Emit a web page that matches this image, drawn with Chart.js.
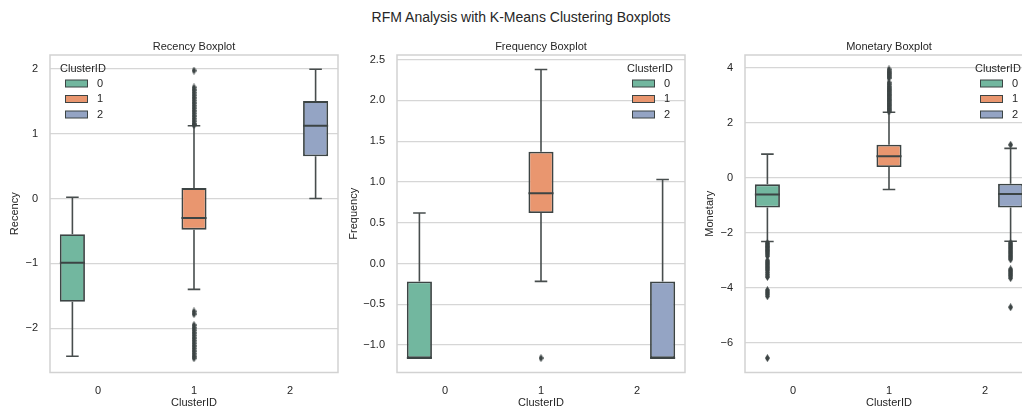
<!DOCTYPE html>
<html>
<head>
<meta charset="utf-8">
<title>RFM Analysis with K-Means Clustering Boxplots</title>
<script src="https://cdn.jsdelivr.net/npm/chart.js@4.4.0/dist/chart.umd.min.js"></script>
<style>
  html, body { margin: 0; padding: 0; background: #ffffff; }
  #figure { position: relative; width: 1022px; height: 407px; overflow: hidden; background: #ffffff; }
  #suptitle {
    position: absolute; left: 0; top: 8px; width: 1042px; text-align: center;
    font: 14px "Liberation Sans", Arial, sans-serif; line-height: 18px; color: #262626; white-space: nowrap;
  }
  .panel { position: absolute; top: 0; }
  .panel canvas { display: block; }
</style>
</head>
<body>
<div id="figure">
  <div id="suptitle">RFM Analysis with K-Means Clustering Boxplots</div>
  <div class="panel" style="left:0px"><canvas id="recencyChart" width="345" height="420"></canvas></div>
  <div class="panel" style="left:345px"><canvas id="frequencyChart" width="345" height="420"></canvas></div>
  <div class="panel" style="left:690px"><canvas id="monetaryChart" width="350" height="420"></canvas></div>
</div>
<script>
// ---- data ---------------------------------------------------------------
const clusterIds = ['0', '1', '2'];

// per cluster: [lower whisker, Q1, median, Q3, upper whisker]
const recencyStats = [
  [-2.43, -1.59, -0.99, -0.55, 0.02],
  [-1.40, -0.48, -0.30, 0.16, 1.12],
  [0.00, 0.65, 1.12, 1.50, 1.99]
];
const recencyOutliers = [
  [],
  [1.97, 1.71, 1.67, 1.63, 1.59, 1.55, 1.51, 1.47, 1.43, 1.39, 1.35, 1.31, 1.27, 1.23, 1.19, 1.15, 1.13,
   -1.74, -1.78, -1.95, -1.99, -2.03, -2.07, -2.11, -2.15, -2.19, -2.23, -2.27, -2.31, -2.35, -2.39, -2.43, -2.46],
  []
];
const recencyTicks = [-2, -1, 0, 1, 2];
const recencyTickLabels = ['\u22122', '\u22121', '0', '1', '2'];

const frequencyStats = [
  [-1.16, -1.16, -1.16, -0.22, 0.62],
  [-0.22, 0.62, 0.86, 1.37, 2.38],
  [-1.16, -1.16, -1.16, -0.22, 1.03]
];
const frequencyOutliers = [
  [],
  [-1.16],
  []
];
const frequencyTicks = [-1.0, -0.5, 0.0, 0.5, 1.0, 1.5, 2.0, 2.5];
const frequencyTickLabels = ['\u22121.0', '\u22120.5', '0.0', '0.5', '1.0', '1.5', '2.0', '2.5'];

const monetaryStats = [
  [-2.31, -1.07, -0.60, -0.23, 0.87],
  [-0.42, 0.40, 0.79, 1.21, 2.39],
  [-2.30, -1.07, -0.58, -0.21, 1.08]
];
const monetaryOutliers = [
  [-2.36, -2.41, -2.46, -2.51, -2.56, -2.61, -2.66, -2.71, -2.77, -2.84,
   -3.00, -3.06, -3.12, -3.18, -3.24, -3.30, -3.36, -3.44, -3.52, -3.60,
   -4.08, -4.15, -4.22, -4.30, -6.55],
  [2.42, 2.48, 2.54, 2.60, 2.66, 2.72, 2.78, 2.84, 2.90, 2.96, 3.02, 3.08, 3.14, 3.20,
   3.26, 3.32, 3.40, 3.47, 3.64, 3.70, 3.76, 3.82, 3.88, 3.95],
  [1.21, -2.36, -2.42, -2.48, -2.54, -2.60, -2.66, -2.72, -2.78, -2.84, -2.90, -2.96,
   -3.32, -3.38, -3.44, -3.50, -3.56, -3.64, -4.70]
];
const monetaryTicks = [-6, -4, -2, 0, 2, 4];
const monetaryTickLabels = ['\u22126', '\u22124', '\u22122', '0', '2', '4'];

// ---- styling ------------------------------------------------------------
const clusterColors = ['#72b79f', '#e9966f', '#94a4c4'];
const edgeColor = '#3c4444';
const whiskerColor = '#474d4d';
const textColor = '#262626';
const gridColor = '#d6d6d6';
const fontFamily = '"Liberation Sans", Arial, sans-serif';

Chart.defaults.font.family = fontFamily;
Chart.defaults.color = textColor;

const hueWidth = 0.8 / clusterIds.length;
const boxWidth = hueWidth * 0.98;
// dodged position of a hue inside its category slot
function hueCenter(i) { return i + (i - (clusterIds.length - 1) / 2) * hueWidth; }
const categoryPositions = clusterIds.map((_, i) => i);

// thin diamond marker used for the fliers
const diamond = document.createElement('canvas');
diamond.width = 5; diamond.height = 8;
(function () {
  const d = diamond.getContext('2d');
  d.fillStyle = edgeColor;
  d.beginPath();
  d.moveTo(2.5, 0); d.lineTo(5, 4); d.lineTo(2.5, 8); d.lineTo(0, 4);
  d.closePath(); d.fill();
})();

function buildDatasets(stats, outliers) {
  const sets = [];
  // boxes (Q1..Q3) as floating bars at their dodged positions
  clusterIds.forEach((id, h) => {
    sets.push({
      type: 'bar', label: id, order: 3, xAxisID: 'x', yAxisID: 'y',
      data: [{ x: hueCenter(h), y: [stats[h][1], stats[h][3]] }],
      backgroundColor: clusterColors[h], borderColor: edgeColor, borderWidth: 1.8,
      borderSkipped: false, grouped: false, categoryPercentage: 1, barPercentage: boxWidth
    });
  });
  clusterIds.forEach((id, h) => {
    const [lo, q1, med, q3, hi] = stats[h];
    const c = hueCenter(h), cap = boxWidth / 4, half = boxWidth / 2;
    const gap = { x: c, y: null };
    sets.push({
      type: 'line', label: 'whiskers ' + id, order: 2, xAxisID: 'xl', yAxisID: 'y',
      data: [
        { x: c, y: q3 }, { x: c, y: hi }, gap,
        { x: c - cap, y: hi }, { x: c + cap, y: hi }, gap,
        { x: c, y: q1 }, { x: c, y: lo }, gap,
        { x: c - cap, y: lo }, { x: c + cap, y: lo }
      ],
      borderColor: whiskerColor, borderWidth: 1.6, pointRadius: 0, spanGaps: false, fill: false
    });
    sets.push({
      type: 'line', label: 'median ' + id, order: 1, xAxisID: 'xl', yAxisID: 'y',
      data: [{ x: c - half, y: med }, { x: c + half, y: med }],
      borderColor: edgeColor, borderWidth: 2, pointRadius: 0, fill: false
    });
    sets.push({
      type: 'scatter', label: 'outliers ' + id, order: 0, xAxisID: 'xl', yAxisID: 'y',
      data: outliers[h].map(v => ({ x: c, y: v })),
      pointStyle: diamond, pointRadius: 3, showLine: false
    });
  });
  return sets;
}

// light frame round the plotting area
const axesFrame = {
  id: 'axesFrame',
  beforeDatasetsDraw(chart) {
    const { ctx, chartArea: a } = chart;
    ctx.save();
    ctx.strokeStyle = '#d2d2d2';
    ctx.lineWidth = 1.5;
    ctx.strokeRect(a.left, a.top, a.right - a.left, a.bottom - a.top);
    ctx.restore();
  }
};

// "ClusterID" legend drawn inside the plotting area
const clusterLegend = {
  id: 'clusterLegend',
  afterDatasetsDraw(chart, args, opts) {
    const { ctx, chartArea: a } = chart;
    const left = opts.side === 'left' ? a.left + 10 : a.right - 58;
    const items = chart.data.datasets.filter(d => d.type === 'bar');
    ctx.save();
    ctx.font = '11px ' + fontFamily;
    ctx.textBaseline = 'middle';
    ctx.textAlign = 'left';
    ctx.fillStyle = textColor;
    ctx.fillText('ClusterID', left, a.top + 14);
    items.forEach((d, i) => {
      const y = a.top + 28.5 + i * 15.5;
      ctx.fillStyle = d.backgroundColor;
      ctx.fillRect(left + 5.5, y - 3.5, 22, 7);
      ctx.strokeStyle = edgeColor;
      ctx.lineWidth = 1;
      ctx.strokeRect(left + 5.5, y - 3.5, 22, 7);
      ctx.fillStyle = textColor;
      ctx.fillText(d.label, left + 37, y);
    });
    ctx.restore();
  }
};

function makePanel(canvasId, cfg) {
  const font = { size: 11, family: fontFamily };
  return new Chart(document.getElementById(canvasId), {
    type: 'bar',
    data: { datasets: buildDatasets(cfg.stats, cfg.outliers) },
    plugins: [axesFrame, clusterLegend],
    options: {
      responsive: false,
      animation: false,
      events: [],
      layout: { padding: { top: 40, left: cfg.padLeft, right: cfg.padRight, bottom: 7.5 } },
      plugins: {
        legend: { display: false },
        tooltip: { enabled: false },
        title: {
          display: true, text: cfg.title, fullSize: false,
          font: { size: 11, family: fontFamily, weight: 'normal' }, color: textColor,
          padding: { top: 0.4, bottom: 1.4 }
        },
        clusterLegend: { side: cfg.legendSide }
      },
      scales: {
        // cluster axis: one unit per cluster, labelled with the cluster ids
        x: {
          type: 'linear', offset: false, min: -0.5, max: 2.5,
          afterBuildTicks(s) { s.ticks = categoryPositions.map(v => ({ value: v })); },
          grid: { display: false, drawTicks: false },
          border: { display: false },
          ticks: { padding: 12, font, color: textColor, callback: (v) => clusterIds[v] },
          title: { display: true, text: 'ClusterID', font, color: textColor, padding: { top: 0, bottom: 3 } },
          afterFit(s) { s.height = 40; }
        },
        // companion axis over the same span, for whiskers, medians and fliers
        xl: {
          type: 'linear', display: false, offset: false, min: -0.5, max: 2.5,
          afterBuildTicks(s) { s.ticks = [{ value: -0.5 }, { value: 2.5 }]; }
        },
        y: {
          type: 'linear', min: cfg.min, max: cfg.max,
          afterBuildTicks(s) { s.ticks = cfg.ticks.map(v => ({ value: v })); },
          ticks: {
            padding: 12, font, color: textColor,
            callback: (v) => cfg.tickLabels[cfg.ticks.indexOf(v)]
          },
          grid: { color: gridColor, lineWidth: 1.2, drawTicks: false },
          border: { display: false },
          title: { display: true, text: cfg.yTitle, font, color: textColor, padding: { top: 0, bottom: 0 } },
          afterFit(s) { s.width = cfg.axisWidth; }
        }
      }
    }
  });
}

makePanel('recencyChart', {
  title: 'Recency Boxplot', yTitle: 'Recency',
  stats: recencyStats, outliers: recencyOutliers,
  ticks: recencyTicks, tickLabels: recencyTickLabels,
  min: -2.68, max: 2.21,
  padLeft: 8.4, axisWidth: 41.6, padRight: 7, legendSide: 'left'
});
makePanel('frequencyChart', {
  title: 'Frequency Boxplot', yTitle: 'Frequency',
  stats: frequencyStats, outliers: frequencyOutliers,
  ticks: frequencyTicks, tickLabels: frequencyTickLabels,
  min: -1.337, max: 2.557,
  padLeft: 2.4, axisWidth: 49.6, padRight: 5, legendSide: 'right'
});
makePanel('monetaryChart', {
  title: 'Monetary Boxplot', yTitle: 'Monetary',
  stats: monetaryStats, outliers: monetaryOutliers,
  ticks: monetaryTicks, tickLabels: monetaryTickLabels,
  min: -7.075, max: 4.475,
  padLeft: 12.9, axisWidth: 42.1, padRight: 7, legendSide: 'right'
});
</script>
</body>
</html>
